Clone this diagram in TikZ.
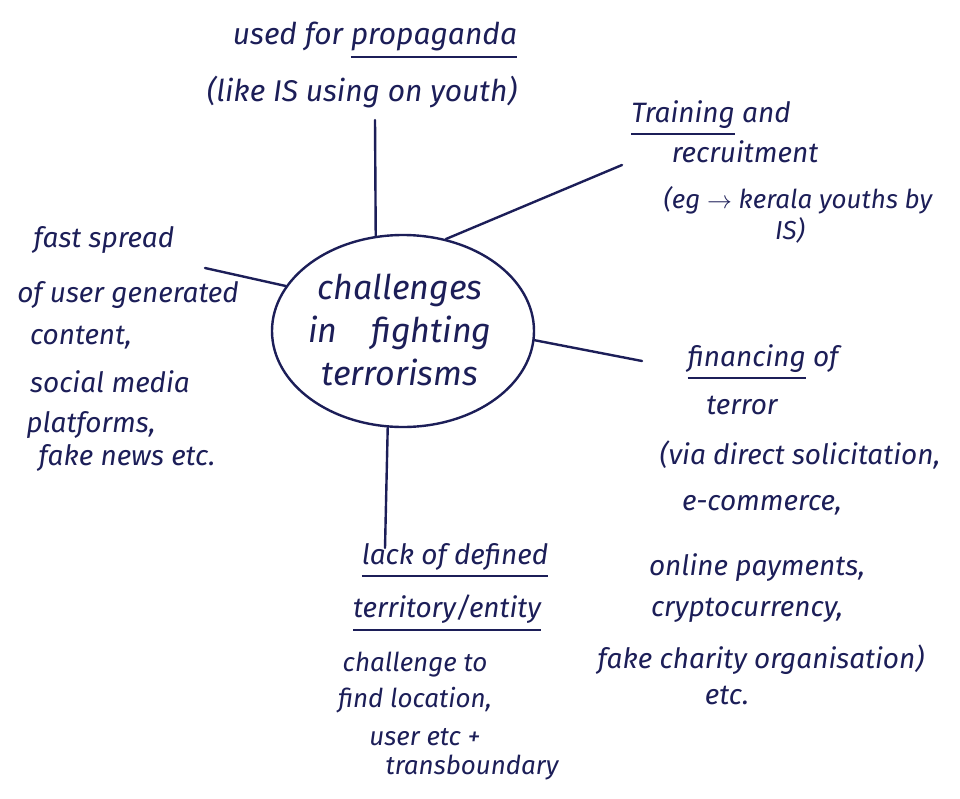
\documentclass[tikz,border=0pt]{standalone}
\usepackage{fontspec}
\setmainfont{Fira Sans}
\usetikzlibrary{shapes.geometric}
\definecolor{ink}{RGB}{28,30,88}
% thick pen-style underline below a word
\newcommand{\inkul}[1]{\vtop{\hbox{#1}\kern5pt\hrule height 2pt}}
\tikzset{
  hand/.style={text=ink, inner sep=0pt, anchor=center},
  big/.style={hand, font=\fontsize{30}{36}\selectfont\itshape},
  mid/.style={hand, font=\fontsize{28}{34}\selectfont\itshape},
  small/.style={hand, font=\fontsize{26}{32}\selectfont\itshape},
  link/.style={draw=ink, line width=2.4pt, line cap=round},
  bubble/.style={ellipse, draw=ink, line width=2.4pt, inner sep=0pt,
                 minimum width=262pt, minimum height=192pt}
}
\begin{document}
\begin{tikzpicture}[x=1pt,y=-1pt]
\useasboundingbox[fill=white] (0,0) rectangle (960,798);

% central bubble
\node[bubble] (c) at (403,331) {};
\node[hand, font=\fontsize{34}{43}\selectfont\itshape, align=center] (ctext) at (400,330)
  {challenges\\in\quad fighting\\terrorisms};

% top branch
\node[big] (t1) at (375,40) {used for \inkul{propaganda}};
\node[big] (t2) at (362,92) {(like IS using on youth)};

% upper right branch
\node[mid] (r1) at (711,118) {\inkul{Training} and};
\node[mid] (r2) at (745,152) {recruitment};
\node[small] (r3) at (798,200) {(eg $\to$ kerala youths by};
\node[small] (r4) at (790,230) {IS)};

% left branch
\node[mid] (l1) at (104,240) {fast spread};
\node[mid] (l2) at (128,295) {of user generated};
\node[mid] (l3) at (81,338) {content,};
\node[mid] (l4) at (110,382) {social media};
\node[mid] (l5) at (91,425) {platforms,};
\node[mid] (l6) at (127,458) {fake news etc.};

% right branch
\node[mid] (f1) at (763,362) {\inkul{financing} of};
\node[mid] (f2) at (742,405) {terror};
\node[mid] (f3) at (800,455) {(via direct solicitation,};
\node[mid] (f4) at (762,505) {e-commerce,};
\node[mid] (f5) at (757,568) {online payments,};
\node[mid] (f6) at (747,610) {cryptocurrency,};
\node[mid] (f7) at (761,660) {fake charity organisation)};
\node[mid] (f8) at (727,695) {etc.};

% bottom branch
\node[mid] (b1) at (455,560) {\inkul{lack of defined}};
\node[mid] (b2) at (447,613) {\inkul{territory/entity}};
\node[small] (b3) at (415,665) {challenge to};
\node[small] (b4) at (415,700) {find location,};
\node[small] (b5) at (425,737) {user etc +};
\node[small] (b6) at (472,768) {transboundary};

% free ends of the spokes
\coordinate (pTop) at (375,120);
\coordinate (pRight1) at (622,165);
\coordinate (pLeft) at (205,268);
\coordinate (pRight2) at (642,361);
\coordinate (pBottom) at (385,548);

\draw[link] (c.106) -- (pTop);
\draw[link] (c.65) -- (pRight1);
\draw[link] (c.159) -- (pLeft);
\draw[link] (c.356) -- (pRight2);
\draw[link] (c.261) -- (pBottom);
\end{tikzpicture}
\end{document}
